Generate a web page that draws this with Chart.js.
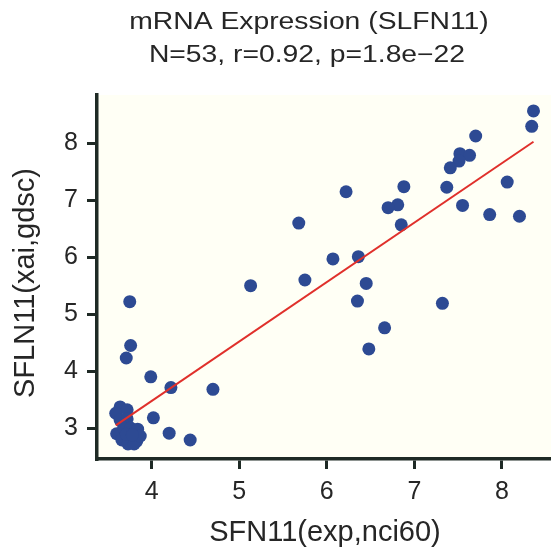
<!DOCTYPE html>
<html>
<head>
<meta charset="utf-8">
<script src="https://cdn.jsdelivr.net/npm/chart.js@4.4.1/dist/chart.umd.min.js"></script>
<style>
  html, body { margin: 0; padding: 0; background: #ffffff; }
  #wrap { width: 551px; height: 554px; }
</style>
</head>
<body>
<div id="wrap"><canvas id="scatter" width="551" height="554"></canvas></div>
<script>
// values
const xValues = [
  8.36, 8.34, 7.70, 7.52, 7.63, 7.51, 7.41, 6.88, 7.37, 8.06,
  6.81, 7.55, 7.86, 8.20, 6.85, 7.32, 6.22, 6.70, 5.68, 6.07,
  6.36, 5.75, 6.45, 6.35, 6.66, 6.48, 5.13, 3.75, 3.76, 3.71,
  3.99, 4.22, 4.70, 4.02, 4.20, 4.44, 3.64, 3.72, 3.59, 3.64,
  3.72, 3.60, 3.68, 3.76, 3.84, 3.66, 3.75, 3.83, 3.73, 3.80,
  3.71, 3.87, 3.78
]
const yValues = [
  8.57, 8.30, 8.13, 7.82, 7.79, 7.69, 7.57, 7.24, 7.23, 7.32,
  6.92, 6.91, 6.75, 6.72, 6.57, 5.19, 7.15, 6.87, 6.60, 5.97,
  6.01, 5.60, 5.54, 5.23, 4.76, 4.39, 5.50, 5.22, 4.45, 4.23,
  3.90, 3.71, 3.68, 3.18, 2.91, 2.79, 3.37, 3.32, 3.26, 3.14,
  3.16, 2.90, 3.00, 3.00, 2.98, 2.79, 2.77, 2.77, 2.72, 2.72,
  2.89, 2.86, 2.88
]
const xTicks = [4, 5, 6, 7, 8]
const yTicks = [3, 4, 5, 6, 7, 8]

const titleLines = ["mRNA Expression (SLFN11)", "N=53, r=0.92, p=1.8e\u221222"]
const xTitle = "SFN11(exp,nci60)"
const yTitle = "SFLN11(xai,gdsc)"

const FONT = "'Liberation Sans', Arial, Helvetica, sans-serif"
const INK = "#262626"
const AXIS = "#1f2a25"

// least squares fit for the red line
const n = xValues.length
const mx = xValues.reduce((a, b) => a + b, 0) / n
const my = yValues.reduce((a, b) => a + b, 0) / n
let sxy = 0, sxx = 0
for (let i = 0; i < n; i++) {
  sxy += (xValues[i] - mx) * (yValues[i] - my)
  sxx += (xValues[i] - mx) ** 2
}
const slope = sxy / sxx
const icpt = my - slope * mx
const xLo = Math.min(...xValues)
const xHi = Math.max(...xValues)

const points = xValues.map((x, i) => ({ x: x, y: yValues[i] }))
const fitLine = [
  { x: xLo, y: icpt + slope * xLo },
  { x: xHi, y: icpt + slope * xHi }
]

const decor = {
  id: "decor",
  beforeDraw(chart) {
    const { ctx, chartArea } = chart
    ctx.save()
    ctx.fillStyle = "#fffff5"
    ctx.fillRect(chartArea.left, chartArea.top, chartArea.right - chartArea.left, chartArea.bottom - chartArea.top)
    ctx.restore()
  },
  afterDraw(chart) {
    const ctx = chart.ctx
    ctx.save()
    ctx.fillStyle = INK
    ctx.textAlign = "center"
    ctx.textBaseline = "alphabetic"

    // title text is horizontally wide in the reference
    ctx.font = "23px " + FONT
    const rows = [[309, 29], [307, 62]]
    titleLines.forEach((line, i) => {
      ctx.save()
      ctx.translate(rows[i][0], rows[i][1])
      ctx.scale(1.23, 1)
      ctx.fillText(line, 0, 0)
      ctx.restore()
    })

    ctx.font = "29px " + FONT
    ctx.fillText(xTitle, 325, 541)

    ctx.save()
    ctx.translate(34, 283)
    ctx.rotate(-Math.PI / 2)
    ctx.fillText(yTitle, 0, 0)
    ctx.restore()

    ctx.restore()
  }
}

new Chart(document.getElementById("scatter"), {
  type: "scatter",
  data: {
    datasets: [
      {
        type: "line",
        data: fitLine,
        borderColor: "#e0302b",
        borderWidth: 2,
        pointRadius: 0,
        fill: false,
        order: 0
      },
      {
        data: points,
        backgroundColor: "#2d4a93",
        borderWidth: 0,
        pointRadius: 6.5,
        order: 1
      }
    ]
  },
  options: {
    responsive: false,
    animation: false,
    devicePixelRatio: 1,
    layout: {
      autoPadding: false, // plot runs right up to the canvas edge
      padding: { top: 95, right: 0, bottom: 0, left: 0 }
    },
    plugins: {
      legend: { display: false },
      tooltip: { enabled: false },
      title: { display: false }
    },
    scales: {
      x: {
        type: "linear",
        min: 3.376,
        max: 8.56,
        afterFit: (scale) => {
          scale.height = 95
          scale.paddingLeft = 0
          scale.paddingRight = 0
        },
        afterBuildTicks: (scale) => { scale.ticks = xTicks.map(v => ({ value: v })) },
        grid: {
          drawOnChartArea: false,
          color: AXIS,
          lineWidth: 3,
          tickLength: 10
        },
        border: { display: true, color: AXIS, width: 3.5 },
        ticks: {
          color: INK,
          padding: 8,
          maxRotation: 0,
          font: { family: FONT, size: 25 }
        }
      },
      y: {
        type: "linear",
        min: 2.456,
        max: 8.85,
        afterFit: (scale) => { scale.width = 97 },
        afterBuildTicks: (scale) => { scale.ticks = yTicks.map(v => ({ value: v })) },
        grid: {
          drawOnChartArea: false,
          color: AXIS,
          lineWidth: 3,
          tickLength: 10
        },
        border: { display: true, color: AXIS, width: 3.5 },
        ticks: {
          color: INK,
          padding: 9,
          font: { family: FONT, size: 25 }
        }
      }
    }
  },
  plugins: [decor]
})
</script>
</body>
</html>
